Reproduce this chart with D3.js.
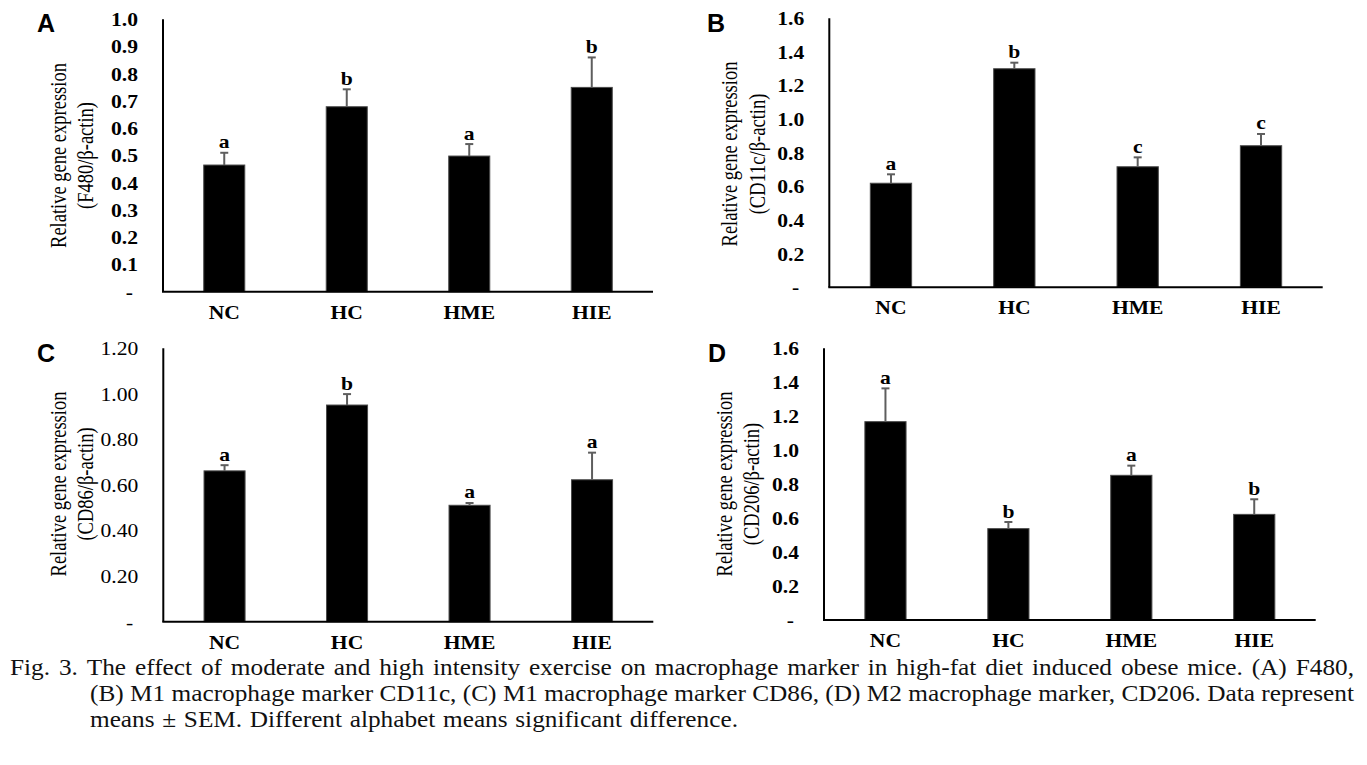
<!DOCTYPE html>
<html><head><meta charset="utf-8">
<script src="https://cdn.jsdelivr.net/npm/d3@7"></script>
<style>body{margin:0;background:#fff}svg{display:block}</style>
</head><body>
<svg id="c" width="1367" height="765"></svg>
<script>
// ---------- data ----------
const categories = ["NC", "HC", "HME", "HIE"];

const f480Means   = [0.465, 0.679, 0.498, 0.750];
const f480Sem     = [0.045, 0.064, 0.044, 0.110];
const f480Letters = ["a", "b", "a", "b"];

const cd11cMeans   = [0.619, 1.300, 0.717, 0.842];
const cd11cSem     = [0.053, 0.036, 0.056, 0.070];
const cd11cLetters = ["a", "b", "c", "c"];

const cd86Means   = [0.662, 0.951, 0.511, 0.623];
const cd86Sem     = [0.025, 0.048, 0.010, 0.119];
const cd86Letters = ["a", "b", "a", "a"];

const cd206Means   = [1.168, 0.538, 0.852, 0.622];
const cd206Sem     = [0.196, 0.039, 0.057, 0.089];
const cd206Letters = ["a", "b", "a", "b"];

const ticksA = [0, 0.1, 0.2, 0.3, 0.4, 0.5, 0.6, 0.7, 0.8, 0.9, 1.0];
const tickLabelsA = ["-", "0.1", "0.2", "0.3", "0.4", "0.5", "0.6", "0.7", "0.8", "0.9", "1.0"];
const ticksB = [0, 0.2, 0.4, 0.6, 0.8, 1.0, 1.2, 1.4, 1.6];
const tickLabelsB = ["-", "0.2", "0.4", "0.6", "0.8", "1.0", "1.2", "1.4", "1.6"];
const ticksC = [0, 0.2, 0.4, 0.6, 0.8, 1.0, 1.2];
const tickLabelsC = ["-", "0.20", "0.40", "0.60", "0.80", "1.00", "1.20"];
const ticksD = [0, 0.2, 0.4, 0.6, 0.8, 1.0, 1.2, 1.4, 1.6];
const tickLabelsD = ["-", "0.2", "0.4", "0.6", "0.8", "1.0", "1.2", "1.4", "1.6"];

const titleLine1 = "Relative gene expression";
const titlesLine2 = ["(F480/\u03b2-actin)", "(CD11c/\u03b2-actin)", "(CD86/\u03b2-actin)", "(CD206/\u03b2-actin)"];
const panelLetters = ["A", "B", "C", "D"];

const captionLines = [
  "Fig. 3. The effect of moderate and high intensity exercise on macrophage marker in high-fat diet induced obese mice. (A) F480,",
  "(B) M1 macrophage marker CD11c, (C) M1 macrophage marker CD86, (D) M2 macrophage marker, CD206. Data represent",
  "means \u00b1 SEM. Different alphabet means significant difference."
];

// ---------- layout ----------
const panels = [
  {means: f480Means, sem: f480Sem, letters: f480Letters, ticks: ticksA, labels: tickLabelsA, max: 1.0,
   x0: 163, x1: 653, yTop: 19.3, yBot: 291.7, t1: 66, t2: 93, tc: 155.5, lx: 37, ly: 31.7, bold: true},
  {means: cd11cMeans, sem: cd11cSem, letters: cd11cLetters, ticks: ticksB, labels: tickLabelsB, max: 1.6,
   x0: 829.3, x1: 1322.7, yTop: 18.3, yBot: 287.3, t1: 737, t2: 765, tc: 154, lx: 707, ly: 31.7, bold: true},
  {means: cd86Means, sem: cd86Sem, letters: cd86Letters, ticks: ticksC, labels: tickLabelsC, max: 1.2,
   x0: 163.3, x1: 653.3, yTop: 348.3, yBot: 621.7, t1: 66, t2: 93, tc: 484, lx: 37, ly: 361.7, bold: false},
  {means: cd206Means, sem: cd206Sem, letters: cd206Letters, ticks: ticksD, labels: tickLabelsD, max: 1.6,
   x0: 824, x1: 1315.7, yTop: 348.3, yBot: 620, t1: 731.5, t2: 759, tc: 484, lx: 708, ly: 361.7, bold: true}
];

const SX = 1.2; // horizontal stretch of the figure text
const serif = "'Liberation Serif','Times New Roman',serif";
const svg = d3.select("#c");

panels.forEach((p, pi) => {
  const g = svg.append("g");
  const y = d3.scaleLinear().domain([0, p.max]).range([p.yBot, p.yTop]);
  const x = d3.scaleBand().domain(categories).range([p.x0, p.x1]).paddingInner(0.665).paddingOuter(0.3325);

  // bars
  g.selectAll("rect.bar").data(categories).join("rect")
    .attr("class", "bar")
    .attr("x", d => x(d)).attr("width", x.bandwidth())
    .attr("y", (d, i) => y(p.means[i])).attr("height", (d, i) => y(0) - y(p.means[i]))
    .attr("fill", "#000").attr("stroke", "#4a4a4a").attr("stroke-width", 1);

  // error bars
  const cx = d => x(d) + x.bandwidth() / 2;
  g.selectAll("line.err").data(categories).join("line")
    .attr("class", "err")
    .attr("x1", cx).attr("x2", cx)
    .attr("y1", (d, i) => y(p.means[i])).attr("y2", (d, i) => y(p.means[i] + p.sem[i]))
    .attr("stroke", "#5e5e5e").attr("stroke-width", 2);
  g.selectAll("line.cap").data(categories).join("line")
    .attr("class", "cap")
    .attr("x1", d => cx(d) - 4).attr("x2", d => cx(d) + 4)
    .attr("y1", (d, i) => y(p.means[i] + p.sem[i])).attr("y2", (d, i) => y(p.means[i] + p.sem[i]))
    .attr("stroke", "#5e5e5e").attr("stroke-width", 2);

  // significance letters
  g.selectAll("text.sig").data(categories).join("text")
    .attr("class", "sig")
    .attr("transform", (d, i) => `translate(${cx(d)},${y(p.means[i] + p.sem[i]) - 4.5}) scale(${SX},1)`)
    .attr("text-anchor", "middle")
    .style("font-family", serif).style("font-weight", "bold").style("font-size", "18px")
    .text((d, i) => p.letters[i]);

  // y axis (ticks/labels through d3 axis)
  const ya = g.append("g").attr("transform", `translate(${p.x0},0)`)
    .call(d3.axisLeft(y).tickValues(p.ticks).tickSize(0).tickFormat((d, i) => p.labels[i]));
  ya.select(".domain").remove();
  ya.selectAll("text")
    .attr("x", null).attr("dy", null)
    .attr("dominant-baseline", "central")
    .attr("transform", (d) => `translate(${d === 0 ? -30 : -25},0) scale(${SX},1)`)
    .attr("fill", "#000")
    .style("font-family", serif).style("font-weight", p.bold ? "bold" : "normal").style("font-size", "18px");

  // x axis labels
  const xa = g.append("g").attr("transform", `translate(0,${p.yBot})`)
    .call(d3.axisBottom(x).tickSize(0));
  xa.select(".domain").remove();
  xa.selectAll("text")
    .attr("y", null).attr("dy", null)
    .attr("transform", `translate(0,27) scale(${SX},1)`)
    .attr("fill", "#000")
    .style("font-family", serif).style("font-weight", "bold").style("font-size", "18px");

  // axis lines
  g.append("line").attr("x1", p.x0).attr("x2", p.x0).attr("y1", y(p.max)).attr("y2", y(0))
    .attr("stroke", "#000").attr("stroke-width", 2);
  g.append("line").attr("x1", p.x0 - 1).attr("x2", p.x1).attr("y1", y(0)).attr("y2", y(0))
    .attr("stroke", "#000").attr("stroke-width", 2);

  // y titles
  g.append("text")
    .attr("transform", `translate(${p.t1},${p.tc}) scale(${SX},1) rotate(-90)`)
    .attr("text-anchor", "middle")
    .style("font-family", serif).style("font-size", "18.5px")
    .text(titleLine1);
  g.append("text")
    .attr("transform", `translate(${p.t2},${p.tc}) scale(${SX},1) rotate(-90)`)
    .attr("text-anchor", "middle")
    .style("font-family", serif).style("font-size", "18.5px")
    .text(titlesLine2[pi]);

  // panel letter
  g.append("text")
    .attr("x", p.lx).attr("y", p.ly)
    .style("font-family", "'Liberation Sans',Arial,sans-serif").style("font-weight", "bold").style("font-size", "25px")
    .text(panelLetters[pi]);
});

// ---------- caption (justified) ----------
const capFont = 23, capSX = 1.1;
const capSpec = [
  {x0: 10, x1: 1354, y: 675},
  {x0: 90, x1: 1354, y: 701},
  {x0: 90, x1: 738, y: 727}
];
const cap = svg.append("g").attr("transform", `scale(${capSX},1)`);
captionLines.forEach((line, li) => {
  const s = capSpec[li];
  const words = line.split(" ");
  const nodes = words.map(w => cap.append("text")
    .attr("y", s.y)
    .style("font-family", serif).style("font-size", capFont + "px").attr("fill", "#111")
    .text(w));
  const widths = nodes.map(n => n.node().getComputedTextLength());
  const total = d3.sum(widths);
  const avail = (s.x1 - s.x0) / capSX;
  const gap = (avail - total) / (words.length - 1);
  let cx = s.x0 / capSX;
  nodes.forEach((n, i) => { n.attr("x", cx); cx += widths[i] + gap; });
});
</script>
</body></html>
